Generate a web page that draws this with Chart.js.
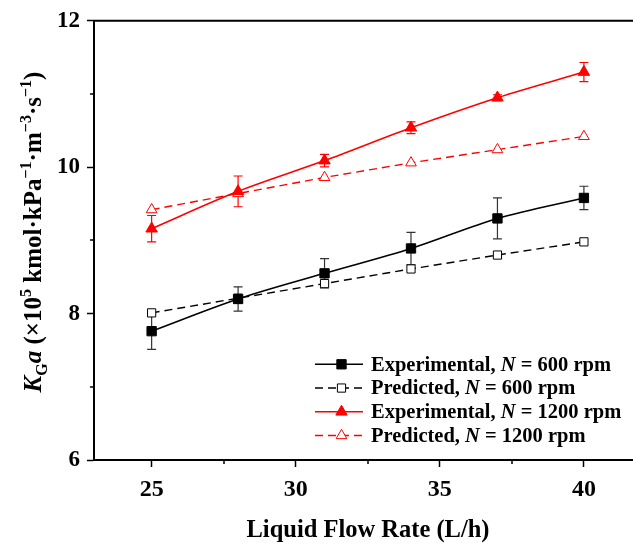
<!DOCTYPE html>
<html lang="en">
<head>
<meta charset="UTF-8">
<title>KGa vs Liquid Flow Rate</title>
<script src="https://cdn.jsdelivr.net/npm/chart.js"></script>
<style>
  html, body { margin: 0; padding: 0; background: #fff; }
  #kgaChart { display: block; }
</style>
</head>
<body>
<canvas id="kgaChart" width="633" height="550"></canvas>
<script>
// liquid flow rate (L/h)
const flowRate = [25, 28, 31, 34, 37, 40];

// KGa (x10^5 kmol/kPa/m3/s), N = 600 rpm
const exp600  = [7.76, 8.20, 8.55, 8.89, 9.30, 9.58];
const err600  = [0.25, 0.165, 0.20, 0.22, 0.28, 0.16];
const pred600 = [8.01, 8.21, 8.41, 8.61, 8.80, 8.98];

// N = 1200 rpm
const exp1200  = [9.16, 9.67, 10.09, 10.54, 10.95, 11.30];
const err1200  = [0.18, 0.21, 0.085, 0.08, 0.04, 0.13];
const pred1200 = [9.42, 9.64, 9.86, 10.06, 10.24, 10.42];

const xTicks = [25, 30, 35, 40];
const yTicks = [6, 8, 10, 12];

const SERIF = '"Liberation Serif", "Times New Roman", serif';
const RED = '#ff0000';

function pts(ys) {
  return flowRate.map((x, i) => ({ x: x, y: ys[i] }));
}

const datasets = [
  {
    label: 'Experimental', rpm: '600', errors: err600,
    data: pts(exp600),
    borderColor: '#000', backgroundColor: '#000',
    borderWidth: 1.6, pointStyle: 'rect', pointRadius: 6.6,
    pointBorderWidth: 1, cubicInterpolationMode: 'monotone'
  },
  {
    label: 'Predicted', rpm: '600',
    data: pts(pred600),
    borderColor: '#000', backgroundColor: '#fff',
    borderWidth: 1.4, borderDash: [8, 5], pointStyle: 'rect', pointRadius: 5.8,
    pointBorderWidth: 1
  },
  {
    label: 'Experimental', rpm: '1200', errors: err1200,
    data: pts(exp1200),
    borderColor: RED, backgroundColor: RED,
    borderWidth: 1.6, pointStyle: 'triangle', pointRadius: 6.6,
    pointBorderWidth: 1, cubicInterpolationMode: 'monotone'
  },
  {
    label: 'Predicted', rpm: '1200',
    data: pts(pred1200),
    borderColor: RED, backgroundColor: '#fff',
    borderWidth: 1.4, borderDash: [8, 5], pointStyle: 'triangle', pointRadius: 6.2,
    pointBorderWidth: 1
  }
];

// error bars with caps, drawn under the markers
const errorBars = {
  id: 'errorBars',
  beforeDatasetsDraw(chart) {
    const ctx = chart.ctx, xs = chart.scales.x, ys = chart.scales.y;
    chart.data.datasets.forEach(ds => {
      if (!ds.errors) return;
      ctx.save();
      ctx.strokeStyle = ds.borderColor === '#000' ? '#333' : ds.borderColor;
      ctx.lineWidth = 1.2;
      ds.data.forEach((p, i) => {
        const e = ds.errors[i];
        const px = xs.getPixelForValue(p.x);
        const top = ys.getPixelForValue(p.y + e);
        const bot = ys.getPixelForValue(p.y - e);
        ctx.beginPath();
        ctx.moveTo(px, top); ctx.lineTo(px, bot);
        ctx.moveTo(px - 4.5, top); ctx.lineTo(px + 4.5, top);
        ctx.moveTo(px - 4.5, bot); ctx.lineTo(px + 4.5, bot);
        ctx.stroke();
      });
      ctx.restore();
    });
  }
};

// frame lines, minor ticks, axis titles and the legend block
const decorations = {
  id: 'decorations',
  afterDraw(chart) {
    const ctx = chart.ctx, a = chart.chartArea;
    const xs = chart.scales.x, ys = chart.scales.y;
    const W = chart.width;
    ctx.save();
    ctx.strokeStyle = '#000';
    ctx.lineWidth = 2;
    ctx.beginPath();
    ctx.moveTo(a.left - 1, a.top); ctx.lineTo(W, a.top);
    ctx.moveTo(a.right - 1, a.bottom); ctx.lineTo(W, a.bottom);
    ctx.stroke();

    ctx.lineWidth = 1.5;
    ctx.beginPath();
    [27.5, 32.5, 37.5].forEach(v => {
      const px = Math.round(xs.getPixelForValue(v));
      ctx.moveTo(px, a.bottom); ctx.lineTo(px, a.bottom + 4);
    });
    [7, 9, 11].forEach(v => {
      const py = Math.round(ys.getPixelForValue(v));
      ctx.moveTo(a.left, py); ctx.lineTo(a.left - 4, py);
    });
    ctx.stroke();

    // x axis title
    ctx.fillStyle = '#000';
    ctx.font = `bold 24.5px ${SERIF}`;
    ctx.textAlign = 'center';
    ctx.textBaseline = 'alphabetic';
    ctx.fillText('Liquid Flow Rate (L/h)', 368, 537);
    ctx.textAlign = 'left';

    // rotated y axis title with sub/superscripts
    const big = 25, small = 16;
    const parts = [
      { t: 'K', f: `italic bold ${big}px ${SERIF}`, dy: 0 },
      { t: 'G', f: `bold ${small}px ${SERIF}`, dy: 6 },
      { t: 'a', f: `italic bold ${big}px ${SERIF}`, dy: 0 },
      { t: ' (\u00d710', f: `bold ${big}px ${SERIF}`, dy: 0 },
      { t: '5', f: `bold ${small}px ${SERIF}`, dy: -10 },
      { t: ' kmol\u00b7kPa', f: `bold ${big}px ${SERIF}`, dy: 0 },
      { t: '\u22121', f: `bold ${small}px ${SERIF}`, dy: -10 },
      { t: '\u00b7m', f: `bold ${big}px ${SERIF}`, dy: 0 },
      { t: '\u22123', f: `bold ${small}px ${SERIF}`, dy: -10 },
      { t: '\u00b7s', f: `bold ${big}px ${SERIF}`, dy: 0 },
      { t: '\u22121', f: `bold ${small}px ${SERIF}`, dy: -10 },
      { t: ')', f: `bold ${big}px ${SERIF}`, dy: 0 }
    ];
    let total = 0;
    parts.forEach(p => { ctx.font = p.f; p.w = ctx.measureText(p.t).width; total += p.w; });
    ctx.translate(41, 232);
    ctx.rotate(-Math.PI / 2);
    let cx = -total / 2;
    parts.forEach(p => { ctx.font = p.f; ctx.fillText(p.t, cx, p.dy); cx += p.w; });
    ctx.restore();

    // legend: line sample with marker, then label text
    ctx.save();
    const rowY0 = 364.3, rowStep = 23.75;
    const lineL = 315, lineR = 363, mx = 341.5, textX = 371;
    chart.data.datasets.forEach((ds, i) => {
      const y = rowY0 + i * rowStep;
      ctx.strokeStyle = ds.borderColor;
      ctx.lineWidth = ds.borderWidth;
      ctx.setLineDash(ds.borderDash || []);
      ctx.beginPath();
      ctx.moveTo(lineL, y); ctx.lineTo(lineR, y);
      ctx.stroke();
      ctx.setLineDash([]);
      ctx.fillStyle = ds.backgroundColor;
      ctx.lineWidth = ds.pointBorderWidth;
      Chart.helpers.drawPoint(ctx, {
        pointStyle: ds.pointStyle, radius: ds.pointRadius, borderWidth: ds.pointBorderWidth
      }, mx, y);

      ctx.fillStyle = '#000';
      ctx.textBaseline = 'middle';
      let tx = textX;
      const seg = [
        { t: ds.label + ', ', f: `bold 20.5px ${SERIF}` },
        { t: 'N', f: `italic bold 20.5px ${SERIF}` },
        { t: ' = ' + ds.rpm + ' rpm', f: `bold 20.5px ${SERIF}` }
      ];
      seg.forEach(s => { ctx.font = s.f; ctx.fillText(s.t, tx, y + 1); tx += ctx.measureText(s.t).width; });
    });
    ctx.restore();
  }
};

new Chart(document.getElementById('kgaChart').getContext('2d'), {
  type: 'line',
  data: { datasets: datasets },
  options: {
    responsive: false,
    devicePixelRatio: 1,
    animation: false,
    layout: { padding: { top: 20, right: 0, left: 0, bottom: 0 } },
    plugins: {
      legend: { display: false },
      tooltip: { enabled: false }
    },
    scales: {
      x: {
        type: 'linear',
        min: 23,
        max: 41.44,
        afterBuildTicks: s => { s.ticks = xTicks.map(v => ({ value: v })); },
        afterFit: s => { s.height = 90; },
        ticks: {
          color: '#000',
          padding: 8,
          maxRotation: 0,
          font: { family: SERIF, size: 24, weight: 'bold' }
        },
        grid: { drawOnChartArea: false, drawTicks: true, tickLength: 7, tickColor: '#000', tickWidth: 1.5 },
        border: { display: true, color: '#000', width: 2 }
      },
      y: {
        type: 'linear',
        min: 6,
        max: 12,
        afterBuildTicks: s => { s.ticks = yTicks.map(v => ({ value: v })); },
        afterFit: s => { s.width = 94; },
        ticks: {
          color: '#000',
          padding: 7,
          font: { family: SERIF, size: 23, weight: 'bold' }
        },
        grid: { drawOnChartArea: false, drawTicks: true, tickLength: 7, tickColor: '#000', tickWidth: 1.5 },
        border: { display: true, color: '#000', width: 2 }
      }
    }
  },
  plugins: [errorBars, decorations]
});
</script>
</body>
</html>
